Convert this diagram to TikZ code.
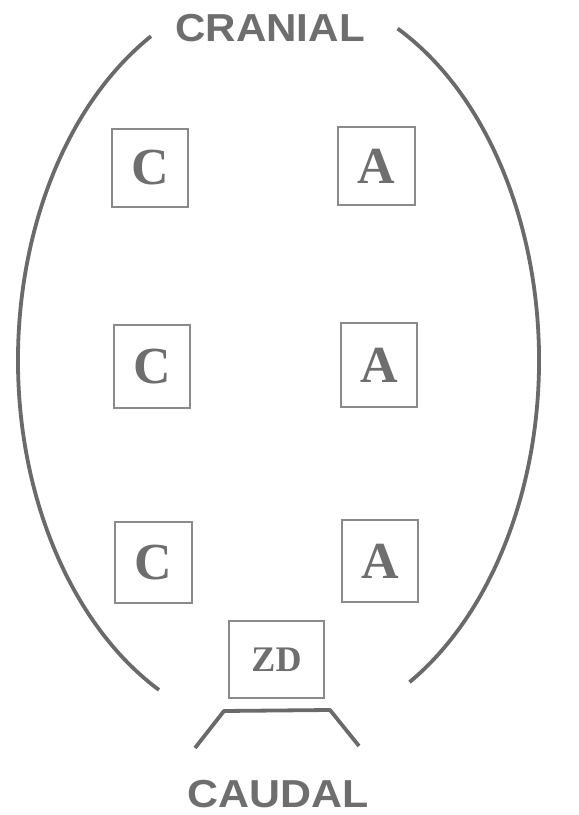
\documentclass[tikz,border=0pt]{standalone}
\usepackage{fontspec}
\setmainfont{Liberation Serif}
\setsansfont{Liberation Sans}
\definecolor{linegray}{HTML}{6A6A6A}
\definecolor{boxgray}{HTML}{8A8A8A}
\definecolor{textgray}{HTML}{6E6E6E}
\tikzset{
  curveline/.style={draw=linegray, line width=3.8pt},
  letterbox/.style={draw=boxgray, line width=1.3pt, inner sep=0pt, text=textgray,
     font=\fontsize{52}{52}\selectfont\bfseries},
  zdbox/.style={letterbox, font=\fontsize{36}{36}\selectfont\bfseries},
  caption/.style={text=textgray, font=\sffamily\bfseries\fontsize{39}{39}\selectfont, inner sep=0pt}
}
\begin{document}
\begin{tikzpicture}[x=1pt,y=1pt]
\useasboundingbox (0,0) rectangle (579,815);
% ellipse sides
\draw[curveline] (280,455) ++(119.5:262 and 372) arc[start angle=119.5, end angle=242.5, x radius=262, y radius=372];
\draw[curveline] (280,455) ++(63:259 and 372) arc[start angle=63, end angle=-60, x radius=259, y radius=372];
% labels
\node[caption, xscale=1.08] (cranial) at (270,787) {CRANIAL};
\node[caption, xscale=1.1] (caudal) at (278,21) {CAUDAL};
% boxes
\node[letterbox, minimum width=76pt, minimum height=78pt] (c1) at (150,647) {C};
\node[letterbox, minimum width=77pt, minimum height=78pt] (a1) at (376.5,649) {A};
\node[letterbox, minimum width=76pt, minimum height=83pt] (c2) at (152,448.5) {C};
\node[letterbox, minimum width=76pt, minimum height=84pt] (a2) at (379,450) {A};
\node[letterbox, minimum width=77pt, minimum height=81pt] (c3) at (153.5,252.5) {C};
\node[letterbox, minimum width=76pt, minimum height=82pt] (a3) at (380,254) {A};
\node[zdbox, minimum width=95pt, minimum height=77pt] (zd) at (276.5,155.5) {ZD};
% trapezoid
\coordinate (t1) at (195,67);
\coordinate (t2) at (224,104);
\coordinate (t3) at (330,105);
\coordinate (t4) at (359,69);
\draw[curveline, line join=round] (t1) -- (t2) -- (t3) -- (t4);
\end{tikzpicture}
\end{document}
